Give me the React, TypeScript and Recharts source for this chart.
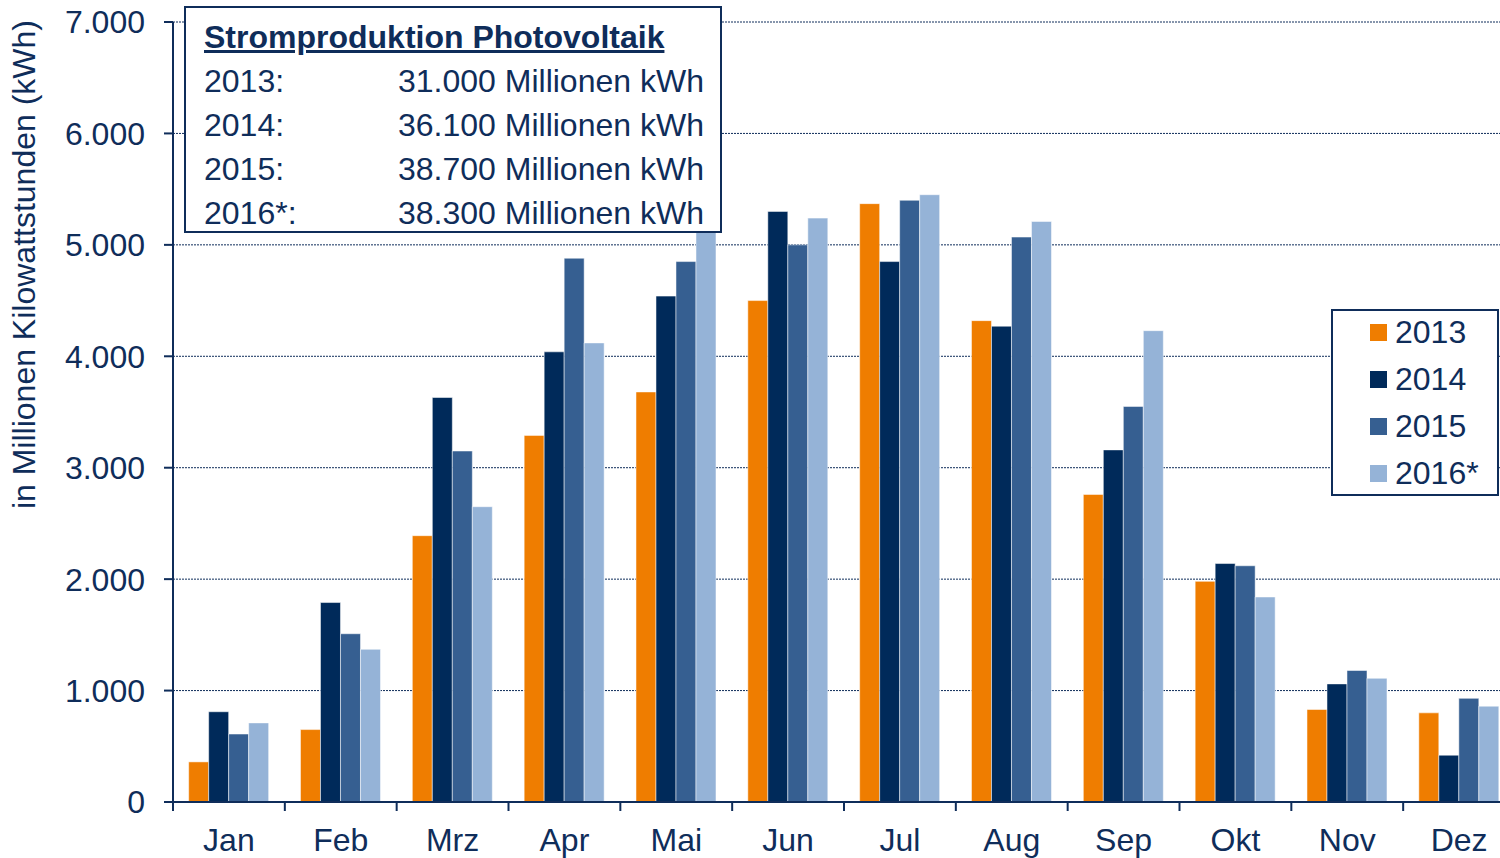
import { BarChart, Bar, XAxis, YAxis, CartesianGrid, Legend } from "recharts";

const months = ["Jan", "Feb", "Mrz", "Apr", "Mai", "Jun", "Jul", "Aug", "Sep", "Okt", "Nov", "Dez"];
const y2013 = [360, 650, 2390, 3290, 3680, 4500, 5370, 4320, 2760, 1980, 830, 800];
const y2014 = [810, 1790, 3630, 4040, 4540, 5300, 4850, 4270, 3160, 2140, 1060, 420];
const y2015 = [610, 1510, 3150, 4880, 4850, 5000, 5400, 5070, 3550, 2120, 1180, 930];
const y2016 = [710, 1370, 2650, 4120, 5200, 5240, 5450, 5210, 4230, 1840, 1110, 860];
const seriesNames = ["2013", "2014", "2015", "2016*"];
const seriesKeys = ["y2013", "y2014", "y2015", "y2016"];
const colors = ["#EF7D00", "#002A5A", "#365F91", "#95B3D7"];
const yTicks = [0, 1000, 2000, 3000, 4000, 5000, 6000, 7000];
const totalLabels = ["2013:", "2014:", "2015:", "2016*:"];
const totalValues = ["31.000", "36.100", "38.700", "38.300"];

const data = months.map((m, i) => ({
  month: m,
  y2013: y2013[i],
  y2014: y2014[i],
  y2015: y2015[i],
  y2016: y2016[i],
}));

const NAVY = "#0F2D5A";
const FONT = '"Liberation Sans", Arial, sans-serif';
const FS = 32;
const X_TICK = 9;
const X_MARGIN = 17;

const fmt = (v: number) => String(v).replace(/\B(?=(\d{3})+(?!\d))/g, ".");

// month label at the band centre, tick mark at the band's left edge
function MonthTick(props: any) {
  const { x, y, payload } = props;
  const half = payload?.offset ?? 0;
  const axisY = y - X_TICK - X_MARGIN;
  return (
    <g>
      <line x1={x - half} x2={x - half} y1={axisY} y2={axisY + X_TICK} stroke={NAVY} strokeWidth={2} />
      <text x={x} y={y} dy="0.71em" textAnchor="middle" fill={NAVY} fontSize={FS} fontFamily={FONT}>
        {payload.value}
      </text>
    </g>
  );
}

function LegendBox() {
  return (
    <div
      style={{
        width: 168,
        height: 187,
        boxSizing: "border-box",
        border: `2px solid ${NAVY}`,
        background: "#fff",
        fontFamily: FONT,
        color: NAVY,
        overflow: "hidden",
      }}
    >
      <div style={{ marginTop: -2 }}>
        {seriesNames.map((n, i) => (
          <div key={n} style={{ display: "flex", alignItems: "center", height: 47, fontSize: FS }}>
            <span style={{ display: "inline-block", width: 17, height: 17, background: colors[i], marginLeft: 37, marginRight: 8 }} />
            <span>{n}</span>
          </div>
        ))}
      </div>
    </div>
  );
}

function YLabel() {
  const x = 35;
  const y = 20;
  return (
    <text x={x} y={y} transform={`rotate(-90, ${x}, ${y})`} textAnchor="end" fill={NAVY} fontSize={FS} fontFamily={FONT}>
      in Millionen Kilowattstunden (kWh)
    </text>
  );
}

export default function App() {
  return (
    <div style={{ position: "fixed", left: 0, top: 0, width: 1500, height: 858, overflow: "hidden", background: "#fff" }}>
      <BarChart
        width={1520}
        height={858}
        data={data}
        margin={{ top: 22, right: 5, left: 0, bottom: 6 }}
        barCategoryGap="14%"
        barGap={0}
        style={{ fontFamily: FONT }}
      >
        <CartesianGrid vertical={false} stroke={NAVY} strokeDasharray="2 1" strokeWidth={1} />
        <XAxis
          dataKey="month"
          tickLine={false}
          tickSize={X_TICK}
          tickMargin={X_MARGIN}
          height={50}
          axisLine={{ stroke: NAVY, strokeWidth: 2 }}
          tick={<MonthTick />}
          interval={0}
        />
        <YAxis
          width={173}
          domain={[0, 7000]}
          ticks={yTicks}
          tickFormatter={fmt}
          tickSize={9}
          tickMargin={19}
          axisLine={{ stroke: NAVY, strokeWidth: 2 }}
          tickLine={{ stroke: NAVY, strokeWidth: 2 }}
          tick={{ fill: NAVY, fontSize: FS, fontFamily: FONT }}
          label={<YLabel />}
        />
        <Legend
          layout="vertical"
          align="center"
          verticalAlign="middle"
          wrapperStyle={{ left: 1331, top: 309, width: 168 }}
          content={() => <LegendBox />}
        />
        {seriesKeys.map((k, i) => (
          <Bar key={k} dataKey={k} name={seriesNames[i]} fill={colors[i]} stroke="#ffffff" strokeOpacity={0.5} strokeWidth={1} isAnimationActive={false} />
        ))}
      </BarChart>
      <div
        style={{
          position: "absolute",
          left: 184,
          top: 6,
          width: 538,
          height: 227,
          boxSizing: "border-box",
          border: `2px solid ${NAVY}`,
          background: "#fff",
          padding: "7px 0 0 18px",
          fontFamily: FONT,
          color: NAVY,
          fontSize: FS,
          lineHeight: "44px",
        }}
      >
        <div style={{ fontWeight: "bold", textDecoration: "underline" }}>Stromproduktion Photovoltaik</div>
        {totalLabels.map((l, i) => (
          <div key={l} style={{ display: "flex" }}>
            <span style={{ width: 194 }}>{l}</span>
            <span>{totalValues[i]} Millionen kWh</span>
          </div>
        ))}
      </div>
    </div>
  );
}
